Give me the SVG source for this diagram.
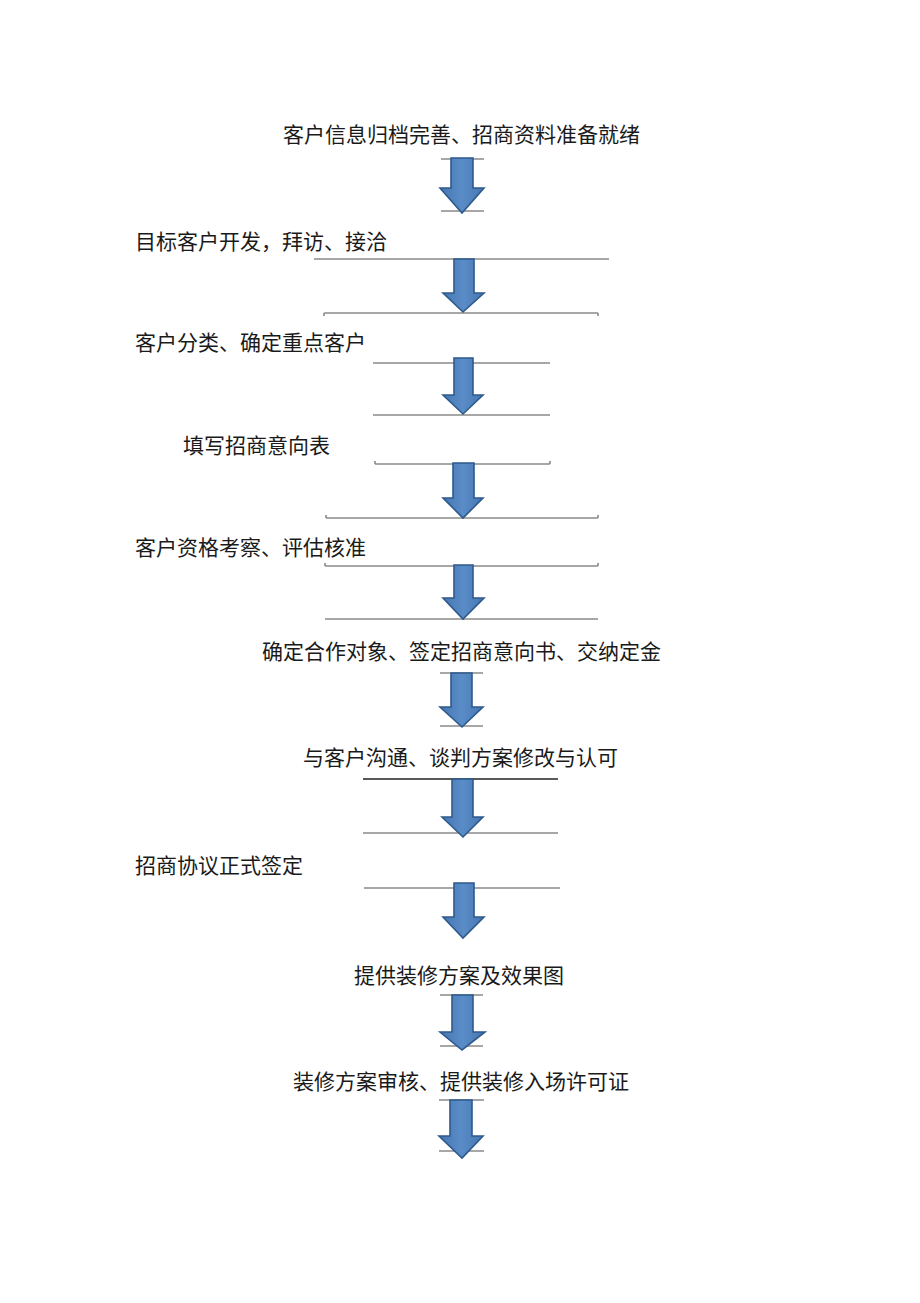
<svg xmlns="http://www.w3.org/2000/svg" width="920" height="1303" viewBox="0 0 920 1303">
<style>
.t{font-family:"Noto Sans CJK SC","Noto Sans",sans-serif;font-size:21px;fill:#1a1a1a}
.r{stroke:#8a8a8a;stroke-width:1.6;fill:none}
.rk{stroke:#222;stroke-width:1.3;fill:none}
.a{fill:url(#g);stroke:#2e5a8c;stroke-width:1.6;stroke-linejoin:miter}
</style>
<defs>
<linearGradient id="g" x1="0" y1="0" x2="1" y2="0">
<stop offset="0" stop-color="#4677b3"/>
<stop offset="0.5" stop-color="#5a8cc8"/>
<stop offset="1" stop-color="#4677b3"/>
</linearGradient>
</defs>
<rect width="920" height="1303" fill="#fff"/>
<g id="rules">
<path class="r" d="M441 159H484M441 211H484"/>
<path class="r" d="M314 259H609"/>
<path class="r" d="M324 313H598M324 313V316M598 313V316"/>
<path class="r" d="M373 363H550M373 415H550"/>
<path class="r" d="M375 464H550M375 464V461M550 464V461"/>
<path class="r" d="M326 518H598M326 518V515M598 518V515"/>
<path class="r" d="M325 566H598M325 566V563M598 566V563"/>
<path class="r" d="M325 619H598"/>
<path class="r" d="M440 673H483M440 726H483"/>
<path class="rk" d="M363 779H558"/>
<path class="r" d="M363 833H558"/>
<path class="r" d="M364 888H560"/>
<path class="r" d="M440 995H483M440 1046H483"/>
<path class="r" d="M439 1100H484M439 1151H484"/>
</g>
<g id="connectors">
<path class="a" d="M451 158H473V188H484L462 213L440 188H451Z"/>
<path class="a" d="M454 259H474V293H484L463 312L443 293H454Z"/>
<path class="a" d="M454 358H473V395H483L463 414L443 395H454Z"/>
<path class="a" d="M453 463H474V498H483L463 518L443 498H453Z"/>
<path class="a" d="M454 565H473V598H484L463 619L443 598H454Z"/>
<path class="a" d="M451 673H472V707H483L462 727L440 707H451Z"/>
<path class="a" d="M452 779H473V817H483L463 837L442 817H452Z"/>
<path class="a" d="M454 883H474V917H484L463 938L443 917H454Z"/>
<path class="a" d="M452 995H473V1032H485L462 1050L440 1032H452Z"/>
<path class="a" d="M450 1100H472V1136H483L462 1158L439 1136H450Z"/>
</g>
<g id="n1"><text class="t" x="283" y="142">客户信息归档完善、招商资料准备就绪</text></g>
<g id="n2"><text class="t" x="135" y="249">目标客户开发，拜访、接洽</text></g>
<g id="n3"><text class="t" x="135" y="350">客户分类、确定重点客户</text></g>
<g id="n4"><text class="t" x="183" y="453">填写招商意向表</text></g>
<g id="n5"><text class="t" x="135" y="555">客户资格考察、评估核准</text></g>
<g id="n6"><text class="t" x="262" y="659">确定合作对象、签定招商意向书、交纳定金</text></g>
<g id="n7"><text class="t" x="303" y="765">与客户沟通、谈判方案修改与认可</text></g>
<g id="n8"><text class="t" x="135" y="873">招商协议正式签定</text></g>
<g id="n9"><text class="t" x="354" y="983">提供装修方案及效果图</text></g>
<g id="n10"><text class="t" x="293" y="1089">装修方案审核、提供装修入场许可证</text></g>
</svg>
